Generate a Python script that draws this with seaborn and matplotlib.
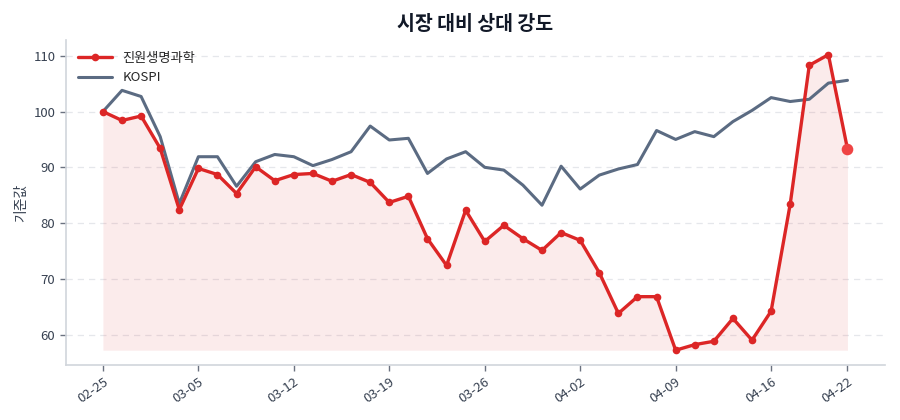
import numpy as np
import pandas as pd
import seaborn as sns
import matplotlib.pyplot as plt

# Trading days (2025), shown evenly spaced by index
dates = ["02-25", "02-26", "02-27", "02-28", "03-04", "03-05", "03-06", "03-07",
         "03-10", "03-11", "03-12", "03-13", "03-14", "03-17", "03-18", "03-19",
         "03-20", "03-21", "03-24", "03-25", "03-26", "03-27", "03-28", "03-31",
         "04-01", "04-02", "04-03", "04-04", "04-07", "04-08", "04-09", "04-10",
         "04-11", "04-14", "04-15", "04-16", "04-17", "04-18", "04-21", "04-22"]

stock = [100.0, 98.4, 99.2, 93.4, 82.4, 89.8, 88.7, 85.3, 90.1, 87.6,
         88.7, 88.9, 87.5, 88.7, 87.3, 83.7, 84.8, 77.2, 72.4, 82.3,
         76.7, 79.6, 77.2, 75.1, 78.3, 76.9, 71.1, 63.8, 66.8, 66.8,
         57.2, 58.2, 58.8, 62.9, 59.0, 64.2, 83.4, 108.3, 110.2, 93.3]

kospi = [100.0, 103.8, 102.7, 95.5, 83.5, 91.9, 91.9, 86.6, 91.0, 92.3,
         91.9, 90.3, 91.4, 92.8, 97.4, 94.9, 95.2, 88.9, 91.5, 92.8,
         90.0, 89.5, 86.8, 83.2, 90.2, 86.1, 88.6, 89.7, 90.5, 96.6,
         95.0, 96.4, 95.5, 98.2, 100.2, 102.5, 101.8, 102.2, 105.1, 105.6]

stock_name = "진원생명과학"
red = "#dc2626"
slate = "#5b6b82"

df = pd.DataFrame({"idx": np.arange(len(dates)), "date": dates,
                   stock_name: stock, "KOSPI": kospi})

sns.set_theme(style="white")
plt.rcParams["font.family"] = ["Noto Sans CJK KR", "DejaVu Sans"]

fig, ax = plt.subplots(figsize=(9, 4.2), dpi=100)
fig.subplots_adjust(left=0.073, right=0.983, top=0.905, bottom=0.131)

ax.fill_between(df["idx"], df[stock_name], df[stock_name].min(),
                color=red, alpha=0.09, linewidth=0, zorder=1)
sns.lineplot(data=df, x="idx", y=stock_name, ax=ax, color=red, linewidth=2.4,
             marker="o", markersize=5.5, markeredgewidth=0, label=stock_name, zorder=3)
sns.lineplot(data=df, x="idx", y="KOSPI", ax=ax, color=slate, linewidth=2.2,
             label="KOSPI", zorder=2)
# highlight the latest value
ax.scatter(df["idx"].iloc[-1], df[stock_name].iloc[-1], s=70, color="#ef4444",
           zorder=4, linewidth=0)

ticks = list(range(0, len(dates), 5))
if ticks[-1] != len(dates) - 1:
    ticks.append(len(dates) - 1)
ax.set_xticks(ticks)
ax.set_xticklabels([dates[i] for i in ticks], rotation=35, ha="right",
                   rotation_mode="anchor")
ax.set_yticks([60, 70, 80, 90, 100, 110])

ax.set_title("시장 대비 상대 강도", fontsize=14, fontweight="bold",
             color="#111827", pad=7)
ax.set_xlabel("")
ax.set_ylabel("기준값", fontsize=10, color="#374151")

ax.yaxis.grid(True, linestyle=(0, (5, 4)), color="#e5e7eb", linewidth=0.9)
ax.xaxis.grid(False)
for side in ["top", "right"]:
    ax.spines[side].set_visible(False)
for side in ["left", "bottom"]:
    ax.spines[side].set_color("#d1d5db")
    ax.spines[side].set_linewidth(1.2)
ax.tick_params(axis="both", which="both", length=4, width=1, color="#6b7280",
               labelsize=9.5, labelcolor="#374151", bottom=True, left=True)

leg = ax.legend(loc="upper left", frameon=False, fontsize=9.5, handlelength=2.6)

plt.savefig("out.png", dpi=100)
plt.close()
